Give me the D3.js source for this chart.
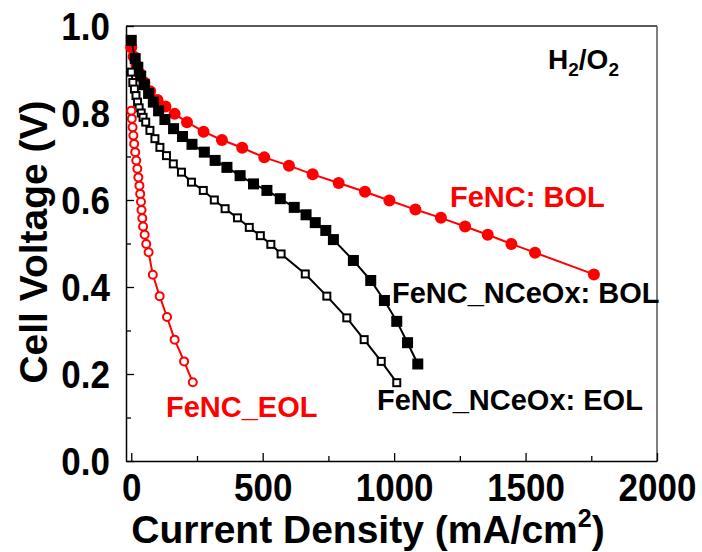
<!DOCTYPE html>
<html>
<head>
<meta charset="utf-8">
<script src="https://cdn.jsdelivr.net/npm/d3@7"></script>
<style>
  body { margin: 0; background: #fff; }
  svg { display: block; }
  text { font-family: Arial, "Liberation Sans", sans-serif; font-weight: bold; }
</style>
</head>
<body>
<svg id="chart" width="702" height="552"></svg>
<script>
// Axis ticks
const xTicks = [0, 500, 1000, 1500, 2000];
const xMinorTicks = [250, 750, 1250, 1750];
const yTicks = [0, 0.2, 0.4, 0.6, 0.8, 1.0];
const yMinorTicks = [0.1, 0.3, 0.5, 0.7, 0.9];

// Polarization curves: current density (mA/cm2) and cell voltage (V)
const fencBolI = [0, 9, 20, 33, 50, 72, 100, 130, 165, 212, 275, 345, 422, 506, 600, 690, 789, 889, 982, 1081, 1178, 1270, 1356, 1446, 1536, 1760];
const fencBolV = [0.951, 0.93, 0.91, 0.89, 0.87, 0.85, 0.83, 0.815, 0.798, 0.779, 0.757, 0.738, 0.720, 0.698, 0.679, 0.659, 0.639, 0.619, 0.599, 0.578, 0.559, 0.539, 0.520, 0.499, 0.479, 0.429];

const ceoxBolI = [0, 15, 25, 36, 50, 66, 84, 104, 128, 161, 195, 231, 278, 319, 364, 414, 465, 516, 567, 620, 665, 700, 740, 769, 845, 911, 963, 1010, 1051, 1090];
const ceoxBolV = [0.967, 0.925, 0.905, 0.885, 0.865, 0.845, 0.825, 0.805, 0.785, 0.764, 0.746, 0.728, 0.710, 0.691, 0.675, 0.656, 0.637, 0.622, 0.603, 0.583, 0.566, 0.548, 0.530, 0.509, 0.461, 0.415, 0.369, 0.321, 0.272, 0.223];

const ceoxEolI = [0, 6, 12, 18, 24, 30, 38, 45, 55, 71, 90, 109, 134, 160, 191, 229, 274, 316, 357, 404, 449, 491, 531, 570, 662, 744, 820, 886, 951, 1010];
const ceoxEolV = [0.894, 0.87, 0.855, 0.84, 0.825, 0.812, 0.80, 0.79, 0.779, 0.760, 0.741, 0.721, 0.702, 0.683, 0.664, 0.641, 0.622, 0.600, 0.580, 0.559, 0.537, 0.518, 0.498, 0.476, 0.430, 0.379, 0.329, 0.279, 0.229, 0.180];

const fencEolI = [0, 2, 5, 8, 11, 15, 19, 23, 27, 31, 34, 37, 39, 42, 45, 51, 57, 66, 82, 108, 136, 165, 201, 234];
const fencEolV = [0.805, 0.787, 0.767, 0.748, 0.729, 0.710, 0.691, 0.672, 0.652, 0.633, 0.614, 0.596, 0.577, 0.558, 0.539, 0.520, 0.499, 0.480, 0.428, 0.379, 0.331, 0.279, 0.229, 0.181];

const RED = "#ff0000";
const BLACK = "#000000";

const plot = { left: 126, right: 657, top: 26, bottom: 461 };
const tickStretch = 1.1;   // tick numerals are drawn slightly tall

const svg = d3.select("#chart");

const x = d3.scaleLinear().domain([-20, 2000]).range([plot.left, plot.right]);
const y = d3.scaleLinear().domain([0, 1]).range([plot.bottom, plot.top]);

// Frame: top and right borders
svg.append("line")
  .attr("x1", plot.left).attr("x2", plot.right)
  .attr("y1", plot.top).attr("y2", plot.top)
  .attr("stroke", "#222").attr("stroke-width", 1.5);
svg.append("line")
  .attr("x1", plot.right).attr("x2", plot.right)
  .attr("y1", plot.top).attr("y2", plot.bottom)
  .attr("stroke", "#555").attr("stroke-width", 1.5);

// Bottom axis (ticks point inward)
const xAxis = svg.append("g")
  .attr("transform", `translate(0,${plot.bottom})`)
  .call(d3.axisBottom(x).tickValues(xTicks).tickFormat(d3.format("d"))
    .tickSizeInner(-8).tickSizeOuter(0));
svg.append("g")
  .attr("transform", `translate(0,${plot.bottom})`)
  .call(d3.axisBottom(x).tickValues(xMinorTicks).tickFormat("")
    .tickSizeInner(-5).tickSizeOuter(0))
  .select(".domain").remove();

// Left axis
const yAxis = svg.append("g")
  .attr("transform", `translate(${plot.left},0)`)
  .call(d3.axisLeft(y).tickValues(yTicks).tickFormat(d3.format(".1f"))
    .tickSizeInner(-8).tickSizeOuter(0).tickPadding(16));
svg.append("g")
  .attr("transform", `translate(${plot.left},0)`)
  .call(d3.axisLeft(y).tickValues(yMinorTicks).tickFormat("")
    .tickSizeInner(-5).tickSizeOuter(0))
  .select(".domain").remove();

svg.selectAll(".domain").attr("stroke", "#000").attr("stroke-width", 1.5);
svg.selectAll(".tick line").attr("stroke", "#000").attr("stroke-width", 1.3);

xAxis.selectAll(".tick text")
  .attr("font-size", 35).attr("fill", "#000")
  .attr("font-family", "Arial, 'Liberation Sans', sans-serif").attr("font-weight", "bold")
  .attr("y", 0).attr("dy", null)
  .attr("transform", `translate(0,40) scale(1,${tickStretch})`);
yAxis.selectAll(".tick text")
  .attr("font-size", 35).attr("fill", "#000")
  .attr("font-family", "Arial, 'Liberation Sans', sans-serif").attr("font-weight", "bold")
  .attr("y", 0).attr("dy", "0.36em")
  .attr("transform", `scale(1,${tickStretch})`);

// Axis titles
const xTitle = svg.append("text")
  .attr("x", 368).attr("y", 543)
  .attr("text-anchor", "middle").attr("font-size", 39).attr("fill", "#000");
xTitle.append("tspan").text("Current Density (mA/cm");
xTitle.append("tspan").attr("font-size", 25).attr("dy", -16).text("2");
xTitle.append("tspan").attr("dy", 16).text(")");

svg.append("text")
  .attr("transform", `translate(47,242) rotate(-90)`)
  .attr("text-anchor", "middle").attr("font-size", 39).attr("fill", "#000")
  .text("Cell Voltage (V)");

// Series
const series = [
  { I: fencBolI, V: fencBolV, color: RED, shape: "circle", filled: true },
  { I: ceoxBolI, V: ceoxBolV, color: BLACK, shape: "square", filled: true },
  { I: ceoxEolI, V: ceoxEolV, color: BLACK, shape: "square", filled: false },
  { I: fencEolI, V: fencEolV, color: RED, shape: "circle", filled: false }
];

const line = d3.line().x(d => x(d[0])).y(d => y(d[1]));

series.forEach(s => {
  const pts = s.I.map((c, i) => [c, s.V[i]]);
  const g = svg.append("g");
  g.append("path").datum(pts)
    .attr("d", line).attr("fill", "none")
    .attr("stroke", s.color).attr("stroke-width", 2);
  if (s.shape === "circle") {
    g.selectAll("circle").data(pts).enter().append("circle")
      .attr("cx", d => x(d[0])).attr("cy", d => y(d[1]))
      .attr("r", s.filled ? 6 : 4)
      .attr("fill", s.filled ? s.color : "#fff")
      .attr("stroke", s.color).attr("stroke-width", s.filled ? 0 : 2);
  } else {
    const side = s.filled ? 11 : 7;
    g.selectAll("rect").data(pts).enter().append("rect")
      .attr("x", d => x(d[0]) - side / 2).attr("y", d => y(d[1]) - side / 2)
      .attr("width", side).attr("height", side)
      .attr("fill", s.filled ? s.color : "#fff")
      .attr("stroke", s.color).attr("stroke-width", s.filled ? 0 : 2);
  }
});

// Series labels
const labels = [
  { text: "FeNC: BOL", x: 450, y: 207, color: RED },
  { text: "FeNC_NCeOx: BOL", x: 392, y: 303, color: BLACK },
  { text: "FeNC_NCeOx: EOL", x: 377, y: 410, color: BLACK },
  { text: "FeNC_EOL", x: 166, y: 417, color: RED }
];
svg.selectAll("text.series-label").data(labels).enter().append("text")
  .attr("class", "series-label")
  .attr("x", d => d.x).attr("y", d => d.y)
  .attr("font-size", 29).attr("fill", d => d.color)
  .text(d => d.text);

// Gas feed annotation
const gas = svg.append("text")
  .attr("x", 548).attr("y", 69).attr("font-size", 28).attr("fill", "#000");
gas.append("tspan").text("H");
gas.append("tspan").attr("font-size", 19).attr("dy", 7).text("2");
gas.append("tspan").attr("dy", -7).text("/O");
gas.append("tspan").attr("font-size", 19).attr("dy", 7).text("2");
</script>
</body>
</html>
